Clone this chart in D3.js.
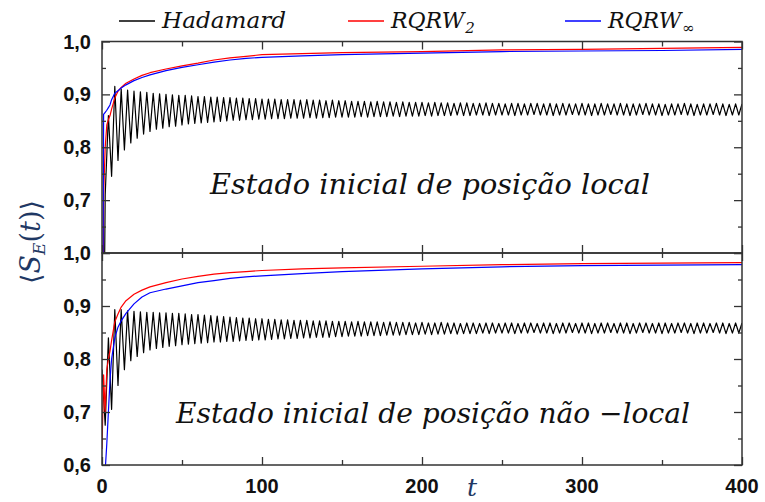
<!DOCTYPE html>
<html>
<head>
<meta charset="utf-8">
<script src="https://cdn.jsdelivr.net/npm/d3@7"></script>
<style>
  html, body { margin: 0; padding: 0; background: #fff; }
  svg { display: block; }
</style>
</head>
<body>
<svg id="chart" width="765" height="502"></svg>
<script>
// ---- data ---------------------------------------------------------------
// time samples of the random-coin walks
const rqrwT = [0, 1, 2, 3, 4, 5, 6, 8, 10, 12, 15, 20, 25, 30, 40, 50, 60, 70, 80, 90, 100, 125, 150, 200, 250, 300, 350, 400];

// local initial position
const rqrw2Local   = [0, 0.71, 0.80, 0.842, 0.852, 0.86, 0.872, 0.893, 0.906, 0.913, 0.921, 0.929, 0.936, 0.941, 0.948, 0.954, 0.959, 0.965, 0.969, 0.972, 0.975, 0.977, 0.979, 0.981, 0.984, 0.985, 0.987, 0.989];
const rqrwInfLocal = [0, 0.862, 0.866, 0.870, 0.875, 0.880, 0.890, 0.902, 0.907, 0.912, 0.918, 0.926, 0.932, 0.937, 0.945, 0.951, 0.956, 0.961, 0.965, 0.968, 0.970, 0.973, 0.975, 0.978, 0.981, 0.982, 0.983, 0.985];

// non-local initial position
const rqrw2NonLocal   = [0.63, 0.77, 0.70, 0.78, 0.80, 0.815, 0.835, 0.870, 0.885, 0.898, 0.910, 0.922, 0.930, 0.936, 0.944, 0.951, 0.956, 0.960, 0.963, 0.965, 0.967, 0.970, 0.972, 0.975, 0.978, 0.980, 0.981, 0.982];
const rqrwInfNonLocal = [0.45, 0.52, 0.59, 0.64, 0.70, 0.76, 0.80, 0.84, 0.86, 0.872, 0.886, 0.904, 0.917, 0.925, 0.932, 0.938, 0.944, 0.948, 0.952, 0.955, 0.957, 0.961, 0.965, 0.970, 0.974, 0.976, 0.977, 0.978];

// Hadamard walk: turning points of the oscillation, one every 2 steps
const hadStep = 2;
const hadLocalStart = 0;        // t = 0
const hadLocalTroughs = [       // t = 2, 6, 10, ..., 398
  0.710, 0.745, 0.775, 0.795, 0.808, 0.817, 0.825, 0.830, 0.834, 0.836,
  0.839, 0.840, 0.842, 0.844, 0.845, 0.846, 0.847, 0.848, 0.849, 0.850,
  0.851, 0.851, 0.852, 0.852, 0.853, 0.853, 0.854, 0.854, 0.854, 0.855,
  0.855, 0.855, 0.856, 0.855, 0.856, 0.856, 0.857, 0.857, 0.857, 0.857,
  0.858, 0.857, 0.858, 0.858, 0.858, 0.859, 0.858, 0.859, 0.859, 0.859,
  0.860, 0.859, 0.860, 0.860, 0.860, 0.861, 0.860, 0.860, 0.861, 0.861,
  0.860, 0.861, 0.861, 0.861, 0.860, 0.861, 0.861, 0.862, 0.861, 0.861,
  0.860, 0.861, 0.861, 0.862, 0.861, 0.861, 0.860, 0.861, 0.861, 0.862,
  0.861, 0.861, 0.860, 0.861, 0.862, 0.861, 0.861, 0.860, 0.861, 0.861,
  0.862, 0.861, 0.860, 0.861, 0.861, 0.862, 0.861, 0.860, 0.861, 0.861
];
const hadLocalPeaks = [         // t = 4, 8, 12, ..., 400
  0.860, 0.915, 0.910, 0.908, 0.906, 0.905, 0.904, 0.902, 0.901, 0.900,
  0.899, 0.898, 0.898, 0.897, 0.896, 0.896, 0.895, 0.895, 0.894, 0.894,
  0.893, 0.893, 0.892, 0.892, 0.891, 0.891, 0.891, 0.890, 0.890, 0.890,
  0.889, 0.890, 0.889, 0.889, 0.888, 0.889, 0.888, 0.888, 0.887, 0.887,
  0.887, 0.886, 0.887, 0.886, 0.886, 0.885, 0.886, 0.885, 0.885, 0.885,
  0.884, 0.885, 0.884, 0.884, 0.883, 0.884, 0.884, 0.883, 0.883, 0.884,
  0.883, 0.883, 0.882, 0.883, 0.883, 0.882, 0.883, 0.883, 0.882, 0.883,
  0.882, 0.883, 0.882, 0.882, 0.883, 0.882, 0.882, 0.883, 0.882, 0.882,
  0.883, 0.882, 0.882, 0.882, 0.883, 0.882, 0.882, 0.881, 0.882, 0.882,
  0.883, 0.882, 0.881, 0.882, 0.882, 0.883, 0.882, 0.881, 0.882, 0.882
];

const hadNonLocalStart = 0.78;  // t = 0
const hadNonLocalTroughs = [    // t = 2, 6, 10, ..., 398
  0.675, 0.705, 0.750, 0.780, 0.797, 0.805, 0.812, 0.817, 0.820, 0.822,
  0.824, 0.825, 0.827, 0.828, 0.829, 0.830, 0.831, 0.832, 0.832, 0.833,
  0.833, 0.834, 0.835, 0.835, 0.836, 0.836, 0.837, 0.838, 0.838, 0.839,
  0.839, 0.840, 0.840, 0.841, 0.841, 0.841, 0.842, 0.842, 0.843, 0.843,
  0.843, 0.844, 0.844, 0.844, 0.845, 0.845, 0.845, 0.846, 0.846, 0.846,
  0.847, 0.846, 0.847, 0.847, 0.848, 0.847, 0.848, 0.848, 0.848, 0.849,
  0.848, 0.849, 0.849, 0.849, 0.848, 0.849, 0.849, 0.850, 0.849, 0.849,
  0.848, 0.849, 0.849, 0.850, 0.849, 0.849, 0.848, 0.849, 0.849, 0.850,
  0.849, 0.849, 0.848, 0.849, 0.850, 0.849, 0.849, 0.848, 0.849, 0.849,
  0.850, 0.849, 0.848, 0.849, 0.849, 0.850, 0.849, 0.848, 0.849, 0.849
];
const hadNonLocalPeaks = [      // t = 4, 8, 12, ..., 400
  0.840, 0.893, 0.893, 0.891, 0.890, 0.889, 0.888, 0.888, 0.887, 0.887,
  0.886, 0.886, 0.885, 0.884, 0.884, 0.883, 0.882, 0.881, 0.880, 0.879,
  0.878, 0.877, 0.877, 0.876, 0.876, 0.875, 0.875, 0.874, 0.874, 0.873,
  0.873, 0.873, 0.872, 0.872, 0.872, 0.871, 0.871, 0.871, 0.870, 0.871,
  0.870, 0.870, 0.870, 0.869, 0.870, 0.869, 0.869, 0.869, 0.868, 0.869,
  0.868, 0.868, 0.869, 0.868, 0.868, 0.867, 0.868, 0.868, 0.867, 0.868,
  0.868, 0.867, 0.868, 0.868, 0.867, 0.868, 0.868, 0.867, 0.868, 0.868,
  0.867, 0.868, 0.868, 0.867, 0.868, 0.868, 0.867, 0.868, 0.868, 0.867,
  0.868, 0.868, 0.867, 0.868, 0.868, 0.867, 0.868, 0.868, 0.867, 0.868,
  0.868, 0.867, 0.868, 0.868, 0.867, 0.868, 0.868, 0.867, 0.868, 0.868
];

// axes
const xMajorTicks = [0, 100, 200, 300, 400];
const xMinorTicks = [50, 150, 250, 350];
const yMajorTicks = [0.6, 0.7, 0.8, 0.9, 1.0];
const yMinorTicks = [0.65, 0.75, 0.85, 0.95];
const panelLabels = ["Estado inicial de posição local", "Estado inicial de posição não −local"];
const seriesNames = ["Hadamard", "RQRW", "RQRW"];
const seriesSubs  = ["", "2", "∞"];
const seriesColors = ["#000000", "#ff0000", "#0000ff"];

// ---- helpers ------------------------------------------------------------
function hadamardSeries(start, troughs, peaks) {
  const vals = [start];
  troughs.forEach((v, i) => { vals.push(v); vals.push(peaks[i]); });
  return vals.map((v, i) => ({ t: i * hadStep, v }));
}
const pairs = (ts, vs) => ts.map((t, i) => ({ t, v: vs[i] }));
const comma = d => d3.format(".1f")(d).replace(".", ",");

// ---- layout -------------------------------------------------------------
const svg = d3.select("#chart");
const x = d3.scaleLinear().domain([0, 400]).range([102, 742]);

const panels = [
  {
    y: d3.scaleLinear().domain([0.6, 1.0]).range([253, 41.5]),
    had: hadamardSeries(hadLocalStart, hadLocalTroughs, hadLocalPeaks),
    r2: pairs(rqrwT, rqrw2Local),
    rInf: pairs(rqrwT, rqrwInfLocal),
    label: panelLabels[0], labelX: 210, labelY: 194, labelW: 440,
    yLabels: [0.7, 0.8, 0.9, 1.0], xLabels: false
  },
  {
    y: d3.scaleLinear().domain([0.6, 1.0]).range([465, 253]),
    had: hadamardSeries(hadNonLocalStart, hadNonLocalTroughs, hadNonLocalPeaks),
    r2: pairs(rqrwT, rqrw2NonLocal),
    rInf: pairs(rqrwT, rqrwInfNonLocal),
    label: panelLabels[1], labelX: 176, labelY: 423, labelW: 514,
    yLabels: yMajorTicks, xLabels: true
  }
];

const axisColor = "#333";
const labelFont = "'Liberation Sans', Arial, sans-serif";
const serifFont = "'DejaVu Serif', 'Liberation Serif', serif";

panels.forEach((p, idx) => {
  const [y0, y1] = p.y.range();          // bottom, top
  const g = svg.append("g");

  // clip region
  const clipId = "clip" + idx;
  svg.append("clipPath").attr("id", clipId)
    .append("rect")
    .attr("x", x(0)).attr("y", y1)
    .attr("width", x(400) - x(0)).attr("height", y0 - y1);

  // curves
  const line = d3.line().x(d => x(d.t)).y(d => p.y(d.v));
  const plot = g.append("g").attr("clip-path", `url(#${clipId})`);
  [[p.had, seriesColors[0]], [p.r2, seriesColors[1]], [p.rInf, seriesColors[2]]].forEach(([data, c]) => {
    plot.append("path")
      .datum(data)
      .attr("d", line)
      .attr("fill", "none")
      .attr("stroke", c)
      .attr("stroke-width", 1.2)
      .attr("stroke-linejoin", "round");
  });

  // ticks (all inward)
  const tickGroup = (axis, tx, ty) => {
    const a = g.append("g").attr("transform", `translate(${tx},${ty})`).call(axis);
    a.select(".domain").remove();
    a.selectAll(".tick line").attr("stroke", axisColor).attr("stroke-width", 1.3);
    return a;
  };
  tickGroup(d3.axisBottom(x).tickValues(xMajorTicks).tickSize(-8).tickFormat(""), 0, y0);
  tickGroup(d3.axisBottom(x).tickValues(xMinorTicks).tickSize(-5).tickFormat(""), 0, y0);
  tickGroup(d3.axisTop(x).tickValues(xMajorTicks).tickSize(-8).tickFormat(""), 0, y1);
  tickGroup(d3.axisTop(x).tickValues(xMinorTicks).tickSize(-5).tickFormat(""), 0, y1);
  tickGroup(d3.axisLeft(p.y).tickValues(yMajorTicks).tickSize(-8).tickFormat(""), x(0), 0);
  tickGroup(d3.axisLeft(p.y).tickValues(yMinorTicks).tickSize(-4).tickFormat(""), x(0), 0);
  tickGroup(d3.axisRight(p.y).tickValues(yMajorTicks).tickSize(-8).tickFormat(""), x(400), 0);
  tickGroup(d3.axisRight(p.y).tickValues(yMinorTicks).tickSize(-4).tickFormat(""), x(400), 0);

  // y tick labels
  g.append("g").selectAll("text")
    .data(p.yLabels)
    .join("text")
    .attr("x", x(0) - 11)
    .attr("y", d => p.y(d) + 7)
    .attr("text-anchor", "end")
    .attr("font-family", labelFont)
    .attr("font-weight", "bold")
    .attr("font-size", 20)
    .attr("fill", "#111")
    .text(comma);

  // x tick labels
  if (p.xLabels) {
    g.append("g").selectAll("text")
      .data(xMajorTicks)
      .join("text")
      .attr("x", d => x(d))
      .attr("y", y0 + 28)
      .attr("text-anchor", "middle")
      .attr("font-family", labelFont)
      .attr("font-weight", "bold")
      .attr("font-size", 20)
      .attr("fill", "#111")
      .text(d => d);
  }

  // frame
  g.append("rect")
    .attr("x", x(0)).attr("y", y1)
    .attr("width", x(400) - x(0)).attr("height", y0 - y1)
    .attr("fill", "none")
    .attr("stroke", axisColor)
    .attr("stroke-width", 1.5);

  // panel caption
  g.append("text")
    .attr("x", p.labelX).attr("y", p.labelY)
    .attr("font-family", serifFont)
    .attr("font-style", "italic")
    .attr("font-size", 28)
    .attr("fill", "#111")
    .attr("textLength", p.labelW)
    .attr("lengthAdjust", "spacingAndGlyphs")
    .text(p.label);
});

// ---- axis titles --------------------------------------------------------
const titleColor = "#1f3864";
svg.append("text")
  .attr("x", 472).attr("y", 496)
  .attr("text-anchor", "middle")
  .attr("font-family", serifFont)
  .attr("font-style", "italic")
  .attr("font-size", 25)
  .attr("fill", titleColor)
  .text("t");

const yTitle = svg.append("text")
  .attr("transform", "translate(40,242) rotate(-90)")
  .attr("text-anchor", "middle")
  .attr("font-family", serifFont)
  .attr("font-size", 27)
  .attr("fill", titleColor);
yTitle.append("tspan").text("⟨");
yTitle.append("tspan").attr("font-style", "italic").text("S");
yTitle.append("tspan").attr("font-style", "italic").attr("font-size", 17).attr("dy", 5).text("E");
yTitle.append("tspan").attr("dy", -5).text("(");
yTitle.append("tspan").attr("font-style", "italic").text("t");
yTitle.append("tspan").text(")⟩");

// ---- legend -------------------------------------------------------------
const legendX = [119, 348, 565];
seriesNames.forEach((name, i) => {
  const lg = svg.append("g");
  lg.append("line")
    .attr("x1", legendX[i]).attr("x2", legendX[i] + 36)
    .attr("y1", 21).attr("y2", 21)
    .attr("stroke", seriesColors[i]).attr("stroke-width", 1.3);
  const txt = lg.append("text")
    .attr("x", legendX[i] + 43).attr("y", 28)
    .attr("font-family", serifFont)
    .attr("font-style", "italic")
    .attr("font-size", 22)
    .attr("fill", "#111");
  if (seriesSubs[i]) {
    txt.append("tspan").text(name);
    txt.append("tspan")
      .attr("font-size", 15)
      .attr("dx", 1)
      .attr("dy", 5)
      .text(seriesSubs[i]);
  } else {
    txt.attr("textLength", 124)
      .attr("lengthAdjust", "spacingAndGlyphs")
      .text(name);
  }
});
</script>
</body>
</html>
